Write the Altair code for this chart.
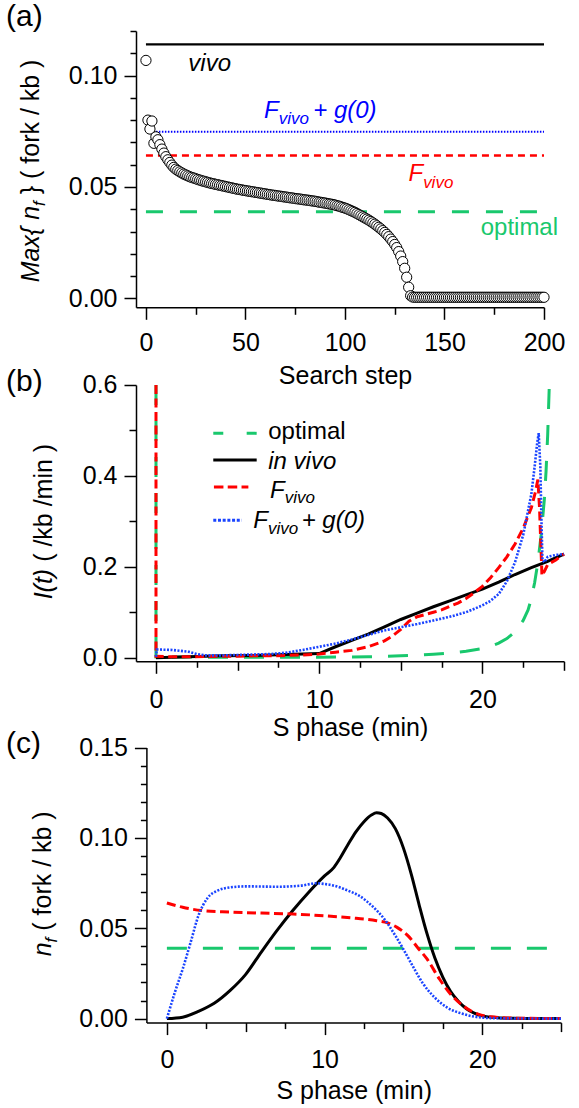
import altair as alt
import pandas as pd

FONT = "Liberation Sans"
GREEN = "#19c86d"
RED = "#ff0000"
BLUE = "#0000ff"
BLUE_DOT = "#1a44ff"

# ---------------------------------------------------------------------------
# (a) maximum fork density reached at each step of the search
# ---------------------------------------------------------------------------
search_step = list(range(201))
max_nf = [
    0.1068, 0.0800, 0.0760, 0.0796, 0.0696, 0.0725, 0.0712, 0.0690, 0.0670, 0.0652,
    0.0636, 0.0622, 0.0610, 0.0598, 0.0588, 0.0580, 0.0574, 0.0568, 0.0563, 0.0558,
    0.0554, 0.0550, 0.0546, 0.0543, 0.0540, 0.0537, 0.0534, 0.0531, 0.0528, 0.0526,
    0.0523, 0.0521, 0.0518, 0.0516, 0.0514, 0.0512, 0.0510, 0.0508, 0.0506, 0.0504,
    0.0502, 0.0500, 0.0498, 0.0496, 0.0494, 0.0492, 0.0490, 0.0489, 0.0487, 0.0485,
    0.0484, 0.0482, 0.0481, 0.0479, 0.0478, 0.0476, 0.0475, 0.0473, 0.0472, 0.0470,
    0.0469, 0.0467, 0.0466, 0.0464, 0.0463, 0.0462, 0.0460, 0.0459, 0.0458, 0.0456,
    0.0455, 0.0454, 0.0452, 0.0451, 0.0450, 0.0448, 0.0447, 0.0446, 0.0445, 0.0443,
    0.0442, 0.0441, 0.0440, 0.0438, 0.0437, 0.0436, 0.0434, 0.0432, 0.0431, 0.0429,
    0.0428, 0.0426, 0.0424, 0.0423, 0.0421, 0.0419, 0.0416, 0.0414, 0.0411, 0.0408,
    0.0405, 0.0402, 0.0398, 0.0394, 0.0390, 0.0386, 0.0381, 0.0376, 0.0371, 0.0366,
    0.0361, 0.0356, 0.0351, 0.0345, 0.0339, 0.0333, 0.0326, 0.0319, 0.0312, 0.0304,
    0.0296, 0.0287, 0.0277, 0.0266, 0.0255, 0.0242, 0.0228, 0.0210, 0.0190, 0.0165,
    0.0135, 0.0095, 0.0050, 0.0012, 0.0006, 0.0005, 0.0005, 0.0005, 0.0005, 0.0005,
    0.0005, 0.0005, 0.0005, 0.0005, 0.0005, 0.0005, 0.0005, 0.0005, 0.0005, 0.0005,
    0.0005, 0.0005, 0.0005, 0.0005, 0.0005, 0.0005, 0.0005, 0.0005, 0.0005, 0.0005,
    0.0005, 0.0005, 0.0005, 0.0005, 0.0005, 0.0005, 0.0005, 0.0005, 0.0005, 0.0005,
    0.0005, 0.0005, 0.0005, 0.0005, 0.0005, 0.0005, 0.0005, 0.0005, 0.0005, 0.0005,
    0.0005, 0.0005, 0.0005, 0.0005, 0.0005, 0.0005, 0.0005, 0.0005, 0.0005, 0.0005,
    0.0005, 0.0005, 0.0005, 0.0005, 0.0005, 0.0005, 0.0005, 0.0005, 0.0005, 0.0005,
    0.0005,
]

# reference levels (maximum of n_f for each strategy) and the steps they span
level_name = ["vivo", "F_vivo + g(0)", "F_vivo", "optimal"]
level_value = [0.114, 0.0748, 0.0641, 0.0389]
level_from = [0, 5, 0, 0]
level_to = [200, 200, 200, 200]

# ---------------------------------------------------------------------------
# (b) initiation rate I(t)  (/kb /min)
# ---------------------------------------------------------------------------
b_opt_t = [0, 0, 2, 4, 6, 8, 10, 12, 13, 14, 15, 16, 17, 18, 19, 20, 20.5, 21, 21.5,
           22, 22.5, 22.8, 23.0, 23.2, 23.4, 23.6, 23.8, 23.9, 24.0, 24.1]
b_opt_I = [0.6, 0.0015, 0.0012, 0.0010, 0.0010, 0.0010, 0.0011, 0.0015, 0.0020, 0.0028,
           0.0040, 0.0055, 0.0075, 0.0100, 0.0140, 0.0200, 0.0250, 0.0320, 0.0420,
           0.0570, 0.0820, 0.1050, 0.1300, 0.1650, 0.2100, 0.2700, 0.3500, 0.4100,
           0.4900, 0.6000]

b_viv_t = [0, 2, 4, 6, 8, 10, 11, 12, 13, 14, 15, 16, 17, 18, 19, 20, 21, 22, 23, 24, 25]
b_viv_I = [0.000, 0.002, 0.004, 0.005, 0.007, 0.009, 0.024, 0.038, 0.052, 0.068, 0.084,
           0.098, 0.112, 0.125, 0.138, 0.151, 0.166, 0.183, 0.198, 0.212, 0.228]

b_fv_t = [0, 0, 1, 2, 3, 4, 5, 6, 7, 8, 9, 10, 11, 12, 13, 14, 14.5, 15, 15.5, 16, 16.5,
          17, 17.5, 18, 18.5, 19, 19.5, 20, 20.5, 21, 21.5, 22, 22.5, 23, 23.25, 23.4,
          23.5, 23.6, 23.65, 23.8, 24, 24.5, 25]
b_fv_I = [0.6, 0.003, 0.002, 0.002, 0.0025, 0.003, 0.003, 0.004, 0.004, 0.005, 0.006,
          0.008, 0.012, 0.016, 0.024, 0.037, 0.048, 0.062, 0.080, 0.090, 0.095, 0.100,
          0.105, 0.113, 0.120, 0.130, 0.143, 0.157, 0.176, 0.198, 0.222, 0.250, 0.285,
          0.330, 0.365, 0.392, 0.330, 0.230, 0.180, 0.190, 0.205, 0.215, 0.228]

b_fg_t = [0, 0.05, 1, 2, 2.5, 3, 4, 5, 6, 7, 8, 9, 10, 11, 12, 13, 14, 15, 16, 17, 18,
          19, 20, 20.5, 21, 21.5, 22, 22.5, 23, 23.2, 23.35, 23.45, 23.55, 23.62, 23.68,
          23.8, 24, 24.5, 25]
b_fg_I = [0.002, 0.018, 0.017, 0.013, 0.008, 0.005, 0.005, 0.006, 0.007, 0.008, 0.011,
          0.017, 0.024, 0.031, 0.040, 0.050, 0.060, 0.067, 0.074, 0.082, 0.090, 0.100,
          0.115, 0.125, 0.140, 0.168, 0.210, 0.270, 0.360, 0.420, 0.470, 0.494, 0.420,
          0.300, 0.215, 0.210, 0.222, 0.226, 0.228]

# ---------------------------------------------------------------------------
# (c) fork density n_f(t)  (fork / kb)
# ---------------------------------------------------------------------------
c_opt_t = [0, 25]
c_opt_n = [0.0389, 0.0389]

c_viv_t = [0, 1, 2, 3, 4, 5, 6, 7, 8, 9, 10, 10.6, 11, 11.5, 12, 12.5, 13, 13.3, 13.6,
           14, 14.5, 15, 15.5, 16, 16.5, 17, 17.5, 18, 18.5, 19, 19.5, 20, 21, 22, 23, 25]
c_viv_n = [0.0, 0.0008, 0.0040, 0.0085, 0.0155, 0.0245, 0.0370, 0.0490, 0.0600, 0.0700,
           0.0790, 0.0837, 0.0890, 0.0965, 0.1035, 0.1090, 0.1128, 0.1139, 0.1135,
           0.1110, 0.1050, 0.0945, 0.0800, 0.0630, 0.0470, 0.0335, 0.0230, 0.0150,
           0.0095, 0.0055, 0.0030, 0.0015, 0.0005, 0.0002, 0.0001, 0.0]

c_fv_t = [0, 1, 2.35, 4, 6, 8, 10, 12, 13.3, 14, 14.6, 15.3, 15.9, 16.5, 17.3, 18, 18.8,
          19.5, 20.5, 22, 25]
c_fv_n = [0.0640, 0.0616, 0.0597, 0.0590, 0.0584, 0.0579, 0.0569, 0.0555, 0.0542, 0.0530,
          0.0505, 0.0458, 0.0394, 0.0330, 0.0218, 0.0135, 0.0070, 0.0033, 0.0010, 0.0003,
          0.0]

c_fg_t = [0, 0.5, 1, 1.5, 2, 2.6, 3.2, 4, 5, 7, 8.5, 9.5, 10, 10.6, 11.5, 12.2, 13, 13.8,
          14.5, 15, 15.6, 16.2, 17, 17.8, 18.7, 19.5, 20.5, 22, 25]
c_fg_n = [0.0, 0.0144, 0.0274, 0.0420, 0.0570, 0.0670, 0.0708, 0.0726, 0.0732, 0.0730,
          0.0736, 0.0749, 0.0745, 0.0736, 0.0708, 0.0680, 0.0625, 0.0550, 0.0458, 0.0384,
          0.0290, 0.0200, 0.0116, 0.0060, 0.0028, 0.0011, 0.0003, 0.0001, 0.0]

# ---------------------------------------------------------------------------
# axis ticks: labelled (long), intermediate and minor (short)
# ---------------------------------------------------------------------------
a_x_major = [0, 50, 100, 150, 200]
a_x_minor = [25, 75, 125, 175]
a_y_major = [0.0, 0.05, 0.1]
a_y_minor = [0.01, 0.02, 0.03, 0.04, 0.06, 0.07, 0.08, 0.09, 0.11, 0.12]
s_x_major = [0, 10, 20]
s_x_mid = [5, 15, 25]
s_x_minor = [2.5, 7.5, 12.5, 17.5, 22.5]
b_y_major = [0.0, 0.2, 0.4, 0.6]
b_y_minor = [0.1, 0.3, 0.5]
c_y_major = [0.0, 0.05, 0.1, 0.15]
c_y_minor = [0.01, 0.02, 0.03, 0.04, 0.06, 0.07, 0.08, 0.09, 0.11, 0.12, 0.13, 0.14]

# ---------------------------------------------------------------------------
# scales: the three panels share one drawing area, each with its own pixel band
# ---------------------------------------------------------------------------
A_X = alt.Scale(domain=[-5, 200], range=[0, 408], nice=False, zero=False)
A_Y = alt.Scale(domain=[-0.004, 0.12], range=[276.3, 0], nice=False, zero=False)
B_X = alt.Scale(domain=[-1.225, 25], range=[0, 428], nice=False, zero=False)
B_Y = alt.Scale(domain=[-0.008, 0.6], range=[630.3, 354], nice=False, zero=False)
C_X = alt.Scale(domain=[-1.3, 25], range=[10.4, 425], nice=False, zero=False)
C_Y = alt.Scale(domain=[-0.0022, 0.15], range=[991.6, 716.6], nice=False, zero=False)

# Arial / Liberation Sans advance widths (1/1000 em) for laying out mixed-style text
ADV = {" ": 278, "(": 333, ")": 333, "+": 584, "/": 278, "{": 334, "}": 334, "0": 556,
       "F": 611, "I": 278, "M": 833, "a": 556, "b": 556, "c": 500, "e": 556, "f": 278,
       "g": 556, "h": 556, "i": 222, "k": 500, "l": 222, "m": 833, "n": 556, "o": 556,
       "p": 556, "r": 333, "s": 500, "t": 278, "v": 500, "x": 500}


def text_width(s, size):
    return sum(ADV.get(ch, 556) for ch in s) * size / 1000.0


AXIS_STYLE = dict(grid=False, domainColor="black", domainWidth=1.5, tickColor="black",
                  tickWidth=1.5)


def major_axis(orient, values, fmt, offset=0, pad=7, **extra):
    return alt.Axis(
        orient=orient, offset=offset, values=values, format=fmt, tickSize=12,
        labelFont=FONT, labelFontSize=25, labelColor="black", labelPadding=pad,
        labelOverlap=False, labelFlush=False,
        titleFont=FONT, titleFontSize=25, titleFontWeight="normal", titleColor="black",
        **AXIS_STYLE, **extra,
    )


def minor_axis(orient, values, size, offset=0):
    return alt.Axis(orient=orient, offset=offset, values=values, tickSize=size,
                    labels=False, domain=False, title=None, **AXIS_STYLE)


def rich_text(x, y, pieces, xs, ys, color="black", angle=0):
    """pieces: (text, size, style, dy, extra gap before); set one after another."""
    layers = []
    dx = 0.0
    for text, size, style, dy, gap in pieces:
        lead = len(text) - len(text.lstrip(" "))
        dx += gap + text_width(" " * lead, size)
        text = text.lstrip(" ")
        src = pd.DataFrame({"x": [x], "y": [y], "label": [text]})
        kw = dict(font=FONT, fontSize=size, fontStyle=style, color=color,
                  align="left", baseline="alphabetic", dx=dx, dy=dy)
        if angle:
            kw["angle"] = angle
        layers.append(
            alt.Chart(src).mark_text(**kw).encode(
                x=alt.X("x:Q", scale=xs, axis=None),
                y=alt.Y("y:Q", scale=ys, axis=None),
                text="label:N",
            )
        )
        dx += text_width(text, size)
    return layers


def hrule(x1, x2, y, xs, ys, color, width, dash=None, xaxis=None, yaxis=None):
    src = pd.DataFrame({"x": [x1], "x2": [x2], "y": [y]})
    kw = dict(color=color, strokeWidth=width)
    if dash:
        kw["strokeDash"] = dash
    return alt.Chart(src).mark_rule(**kw).encode(
        x=alt.X("x:Q", scale=xs, axis=xaxis), x2="x2:Q",
        y=alt.Y("y:Q", scale=ys, axis=yaxis),
    )


def curve(ts, vs, xs, ys, color, width, dash=None, interp="linear", xaxis=None, yaxis=None):
    src = pd.DataFrame({"t": ts, "v": vs, "i": list(range(len(ts)))})
    kw = dict(color=color, strokeWidth=width, interpolate=interp)
    if dash:
        kw["strokeDash"] = dash
    return alt.Chart(src).mark_line(**kw).encode(
        x=alt.X("t:Q", scale=xs, axis=xaxis),
        y=alt.Y("v:Q", scale=ys, axis=yaxis),
        order="i:Q",
    )


# ---------------------------------------------------------------------------
# panel (a)
# ---------------------------------------------------------------------------
a_layers = [
    hrule(level_from[0], level_to[0], level_value[0], A_X, A_Y, "black", 2.2,
          xaxis=major_axis("bottom", a_x_major, "d", offset=-715.3, pad=10.9,
                           title="Search step", titleY=56.6, titleX=209),
          yaxis=major_axis("left", a_y_major, ".2f", title=None)),
    hrule(level_from[1], level_to[1], level_value[1], A_X, A_Y, BLUE, 2, [1.5, 1.5],
          xaxis=minor_axis("bottom", a_x_minor, 7, offset=-715.3),
          yaxis=minor_axis("left", a_y_minor, 6)),
    hrule(level_from[2], level_to[2], level_value[2], A_X, A_Y, RED, 2.5, [7, 5]),
    hrule(level_from[3], level_to[3], level_value[3], A_X, A_Y, GREEN, 3, [17, 17]),
    alt.Chart(pd.DataFrame({"step": search_step, "nf": max_nf})).mark_point(
        shape="circle", filled=True, fill="white", stroke="black", strokeWidth=1,
        size=105, opacity=1).encode(
        x=alt.X("step:Q", scale=A_X, axis=None),
        y=alt.Y("nf:Q", scale=A_Y, axis=None),
    ),
]
a_layers += rich_text(-70.3, 0.1221, [("(a)", 30, "normal", 0, 0)], A_X, A_Y)
a_layers += rich_text(21.3, 0.1020, [("vivo", 24, "italic", 0, 0)], A_X, A_Y)
a_layers += rich_text(59.3, 0.0811, [("F", 24, "italic", 0, 0), ("vivo", 17, "italic", 6.7, 0),
                                     ("+ g(0)", 24, "italic", 0, 4.4)], A_X, A_Y, color=BLUE)
a_layers += rich_text(131.9, 0.0527, [("F", 24, "italic", 0, 0), ("vivo", 17, "italic", 7, 0)],
                      A_X, A_Y, color=RED)
a_layers += rich_text(168.2, 0.0285, [("optimal", 24, "normal", 0, 0)], A_X, A_Y, color=GREEN)
a_layers += rich_text(-53.7, 0.0072, [("Max{ n", 25, "italic", 0, 0), ("f", 17, "italic", 6, 0),
                                      (" } ( fork / kb )", 25, "normal", 0, 0)],
                      A_X, A_Y, angle=270)
panel_a = alt.layer(*a_layers).resolve_axis(x="independent", y="independent")

# ---------------------------------------------------------------------------
# panel (b)
# ---------------------------------------------------------------------------
b_layers = [
    curve(b_opt_t, b_opt_I, B_X, B_Y, GREEN, 3, [20, 16],
          xaxis=major_axis("bottom", s_x_major, "d", offset=-361.3, pad=13.9,
                           title="S phase (min)", titleY=53.9),
          yaxis=major_axis("left", b_y_major, ".1f", title=None)),
    curve(b_viv_t, b_viv_I, B_X, B_Y, "black", 3,
          xaxis=minor_axis("bottom", s_x_mid, 9, offset=-361.3),
          yaxis=minor_axis("left", b_y_minor, 7)),
    curve(b_fv_t, b_fv_I, B_X, B_Y, RED, 3, [9, 4.5],
          xaxis=minor_axis("bottom", s_x_minor, 6, offset=-361.3)),
    curve(b_fg_t, b_fg_I, B_X, B_Y, BLUE_DOT, 2.6, [2, 1.5]),
    # legend samples
    hrule(3.51, 6.17, 0.4937, B_X, B_Y, GREEN, 3, [10, 23.4]),
    hrule(3.51, 6.17, 0.4350, B_X, B_Y, "black", 3),
    hrule(3.55, 5.66, 0.3755, B_X, B_Y, RED, 3, [9.5, 4.3]),
    hrule(3.51, 5.25, 0.3022, B_X, B_Y, BLUE_DOT, 3, [3, 1.7]),
]
b_layers += rich_text(6.88, 0.4805, [("optimal", 24, "normal", 0, 0)], B_X, B_Y)
b_layers += rich_text(6.88, 0.4145, [("in vivo", 24, "italic", 0, 0)], B_X, B_Y)
b_layers += rich_text(6.99, 0.3522, [("F", 24, "italic", 0, 0), ("vivo", 17, "italic", 5, 0)],
                      B_X, B_Y)
b_layers += rich_text(5.96, 0.2846, [("F", 24, "italic", 0, 0), ("vivo", 17, "italic", 6, 0),
                                     ("+ g(0)", 24, "italic", 0, 3.5)], B_X, B_Y)
b_layers += rich_text(-9.19, 0.5862, [("(b)", 30, "normal", 0, 0)], B_X, B_Y)
b_layers += rich_text(-6.37, 0.1283, [("I(t)", 25, "italic", 0, 0),
                                      (" ( /kb /min )", 25, "normal", 0, 0)],
                      B_X, B_Y, angle=270)
panel_b = alt.layer(*b_layers).resolve_axis(x="independent", y="independent")

# ---------------------------------------------------------------------------
# panel (c)
# ---------------------------------------------------------------------------
c_layers = [
    curve(c_opt_t, c_opt_n, C_X, C_Y, GREEN, 3, [20, 16],
          xaxis=major_axis("bottom", s_x_major, "d", pad=12.6,
                           title="S phase (min)", titleY=56.3),
          yaxis=major_axis("left", c_y_major, ".2f", offset=-10.4, title=None)),
    curve(c_viv_t, c_viv_n, C_X, C_Y, "black", 3, interp="monotone",
          xaxis=minor_axis("bottom", s_x_mid, 9),
          yaxis=minor_axis("left", c_y_minor, 6, offset=-10.4)),
    curve(c_fv_t, c_fv_n, C_X, C_Y, RED, 3, [9, 4.5], interp="monotone",
          xaxis=minor_axis("bottom", s_x_minor, 6)),
    curve(c_fg_t, c_fg_n, C_X, C_Y, BLUE_DOT, 2.6, [2, 1.5], interp="monotone"),
]
c_layers += rich_text(-10.21, 0.14707, [("(c)", 30, "normal", 0, 0)], C_X, C_Y)
c_layers += rich_text(-7.35, 0.0345, [("n", 25, "italic", 0, 0), ("f", 17, "italic", 6, 0),
                                      (" ( fork / kb )", 25, "normal", 0, 0)],
                      C_X, C_Y, angle=270)
panel_c = alt.layer(*c_layers).resolve_axis(x="independent", y="independent")

chart = (
    alt.layer(panel_a, panel_b, panel_c)
    .resolve_scale(x="independent", y="independent")
    .resolve_axis(x="independent", y="independent")
    .properties(width=428, height=991.6,
                padding={"left": 5, "top": 2, "right": 2, "bottom": 2})
    .configure_view(stroke=None)
)

chart.save("out.html", embed_options={"renderer": "svg", "actions": False})
